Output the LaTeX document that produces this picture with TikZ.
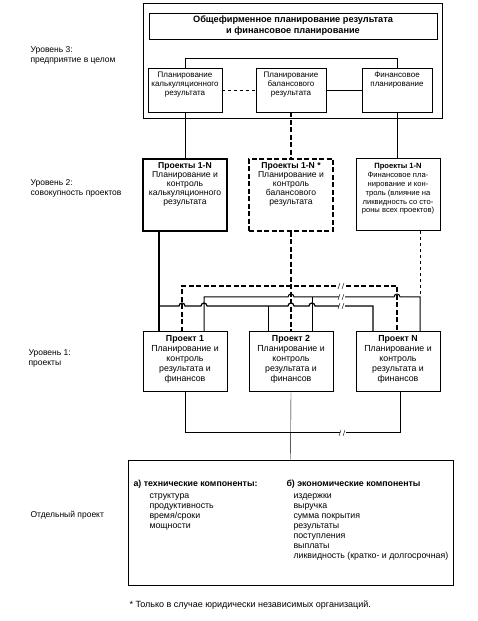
\documentclass[tikz,border=0pt]{standalone}
\usepackage{fontspec}
\setmainfont{Liberation Sans}
\newcommand\cell[3]{\parbox[c][#1][t]{#2}{\centering\rule{0pt}{8pt}#3}}
\begin{document}
\begin{tikzpicture}[x=1pt, y=1pt,
    every node/.style={font=\fontsize{8}{9}\selectfont},
    box/.style={draw, line width=0.8pt, inner sep=2pt},
    bigdash/.style={line width=1.2pt, dash pattern=on 5pt off 2.5pt},
    lbl/.style={anchor=west, align=left, font=\fontsize{8.5}{10}\selectfont},
    lst/.style={anchor=north west, align=left, font=\fontsize{8.8}{10}\selectfont}]
    \useasboundingbox (0,0) rectangle (477,621);
    % level 3
    \draw[line width=0.8pt] (143,503) rectangle (442,618);
    \node[box, minimum width=288pt, minimum height=26pt, align=center,
    font=\bfseries\fontsize{9.2}{11}\selectfont] (top) at (293,595)
    {Общефирменное планирование результата\\и финансовое планирование};
    \node[box] (l3cal) at (185,531) {\cell{40pt}{70pt}{Планирование\\калькуляционного\\результата}};
    \node[box] (l3bal) at (291,531) {\cell{40pt}{66pt}{Планирование\\балансового\\результата}};
    \node[box] (l3fin) at (397,531) {\cell{40pt}{66pt}{Финансовое\\планирование}};
    \draw (l3cal.north) -- ++(0,9) -| (l3fin.north);
    \draw[thin, dashed] (l3cal.east) -- (l3bal.west);
    \draw[thin] (l3bal.east) -- (l3fin.west);
    % level 2
    \node[box, line width=1.2pt] (l2cal) at (185,426) {\cell{68pt}{80pt}{\fontsize{8.6}{8.9}\selectfont
    \textbf{Проекты 1-N}\\Планирование и\\контроль\\калькуляционного\\результата}};
    \node[box, bigdash] (l2bal) at (291,426) {\cell{68pt}{80pt}{\fontsize{8.6}{8.9}\selectfont
    \textbf{Проекты 1-N *}\\Планирование и\\контроль\\балансового\\результата}};
    \node[box, line width=1pt] (l2fin) at (398,426) {\cell{68pt}{80pt}{\fontsize{7.6}{8.8}\selectfont
    \textbf{Проекты 1-N}\\Финансовое пла-\\нирование и кон-\\троль (влияние на\\ликвидность со сто-\\роны всех проектов)}};
    \draw[line width=1pt] (l3cal.south) -- (l2cal.north);
    \draw[bigdash] (l3bal.south) -- (l2bal.north);
    \draw[thin] (l3fin.south) -- (l3fin.south |- l2fin.north);
    % level 1
    \node[box, line width=1pt] (pr1) at (185,259) {\cell{56pt}{80pt}{\fontsize{8.8}{10}\selectfont\textbf{Проект 1}\\Планирование и\\контроль\\результата и\\финансов}};
    \node[box, line width=1pt] (pr2) at (291,259) {\cell{56pt}{80pt}{\fontsize{8.8}{10}\selectfont\textbf{Проект 2}\\Планирование и\\контроль\\результата и\\финансов}};
    \node[box, line width=1pt] (prn) at (398,259) {\cell{56pt}{80pt}{\fontsize{8.8}{10}\selectfont\textbf{Проект N}\\Планирование и\\контроль\\результата и\\финансов}};
    % buses between level 2 and level 1
    \draw[line width=1.2pt] (159,390) -- (159,289);
    \draw[line width=1.2pt] (159,315) -- (179,315) arc[start angle=180, end angle=0, radius=3]
    -- (201,315) arc[start angle=180, end angle=0, radius=3]
    -- (288,315) arc[start angle=180, end angle=0, radius=3]
    -- (309,315) arc[start angle=180, end angle=0, radius=3]
    -- (373,315) -- (373,289);
    \draw[thin] (268,315) -- (268,289);
    \draw[line width=1pt] (204,289) -- (204,324) -- (288,324) arc[start angle=180, end angle=0, radius=3]
    -- (394,324) arc[start angle=180, end angle=0, radius=3] -- (420,324) -- (420,289);
    \draw[line width=1pt] (312,324) -- (312,289);
    \draw[thin, dashed] (420,390) -- (420,324);
    \draw[bigdash] (182,289) -- (182,335) -- (397,335) -- (397,289);
    \draw[bigdash] (l2bal.south) -- (l2bal.south |- pr2.north);
    \foreach \y in {335,324,315}
    {
        \fill[white] (339,\y-3) rectangle (345,\y+3);
        \draw[thin] (338,\y-3) -- (340,\y+3) (342,\y-3) -- (344,\y+3);
    }
    % single project
    \node[draw, line width=0.8pt, minimum width=325pt, minimum height=125pt] (single) at (290.5,98.5) {};
    \draw[line width=1pt] (pr1.south) -- (185,188) -- (400,188) -- (prn.south -| 400,0);
    \draw[thin] (pr2.south) -- (single.north);
    \fill[white] (340,185) rectangle (346,191);
    \draw[thin] (339,185) -- (341,191) (343,185) -- (345,191);
    \node[lbl, font=\bfseries\fontsize{8.8}{10}\selectfont] (tech) at (130,137) {а) технические компоненты:};
    \node[lst] (techlist) at (146,131) {структура\\продуктивность\\время/сроки\\мощности};
    \node[lbl, font=\bfseries\fontsize{8.8}{10}\selectfont] (econ) at (283,137) {б) экономические компоненты};
    \node[lst] (econlist) at (290,131) {издержки\\выручка\\сумма покрытия\\результаты\\поступления\\выплаты\\ликвидность (кратко- и долгосрочная)};
    % levels
    \node[lbl] (lev3) at (27,566) {Уровень 3:\\предприятие в целом};
    \node[lbl] (lev2) at (27,433) {Уровень 2:\\совокупность проектов};
    \node[lbl] (lev1) at (25,263) {Уровень 1:\\проекты};
    \node[lbl] (lev0) at (27,106) {Отдельный проект};
    \node[lbl, font=\fontsize{9}{10}\selectfont] (note) at (126,16) {* Только в случае юридически независимых организаций.};
\end{tikzpicture}
\end{document}
